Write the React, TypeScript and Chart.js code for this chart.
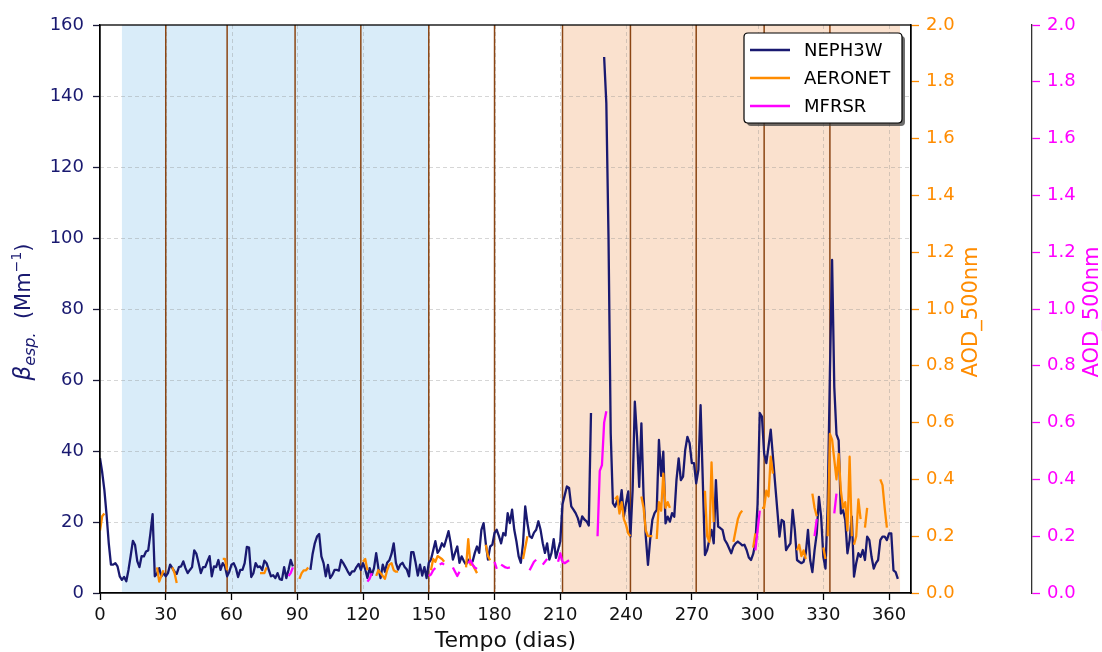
import React, { useEffect, useRef } from 'react';
import { Chart, registerables } from 'chart.js';

Chart.register(...registerables);

const FONT = '"DejaVu Sans", "Liberation Sans", sans-serif';
const NAVY = '#191970';
const ORANGE = '#ff8c00';
const MAGENTA = '#ff00ff';

// Axis ticks
const dayTicks = [0, 30, 60, 90, 120, 150, 180, 210, 240, 270, 300, 330, 360];
const betaTicks = [0, 20, 40, 60, 80, 100, 120, 140, 160];
const aodTicks = [0, 0.2, 0.4, 0.6, 0.8, 1.0, 1.2, 1.4, 1.6, 1.8, 2.0];

// First day of each month (day of year, 0-based) and the two shaded seasons
const monthBoundaries = [30, 58, 89, 119, 150, 180, 211, 242, 272, 303, 333];
const wetSeason = [10, 150];
const drySeason = [211, 365];

// Daily scattering coefficient from the nephelometer (Mm^-1), index = day
const neph3w: (number | null)[] = [
  38, 34, 29, 22, 14, 8, 8, 8.4, 7.5, 4.7,
  3.7, 4.5, 3.3, 6.5, 10.5, 14.7, 13.5, 9, 7.3, 10.4,
  10.3, 11.7, 12, 16.8, 22.2, 4.7, 5.5, 7, 4.7, 5.6,
  4.7, 5.6, 8, 7, 6, 5.4, 7.3, 7.5, 8.9, 7,
  5.6, 6.5, 7.3, 12, 11, 8.4, 5.6, 7.3, 7.3, 8.9,
  10.4, 4.7, 7.5, 7.3, 9.3, 6.5, 8.4, 7.5, 4.7, 6,
  8, 8.4, 7, 4.5, 6.5, 6.5, 8.4, 13, 12.8, 4.5,
  5.6, 8.4, 7.3, 7.5, 6.5, 9.1, 8.4, 6.5, 4.7, 5,
  4.2, 5.6, 3.9, 3.7, 7.3, 4.2, 6.5, 9.3, 7.5, null,
  null, null, null, null, null, null, 6.5, 11, 14, 15.9,
  16.6, 10.3, 8.4, 4.7, 7.9, 4.2, 5.1, 6.5, 6.5, 6.3,
  9.3, 8.4, 7.3, 6.1, 5.1, 6.1, 6.1, 7.3, 8.2, 6.5,
  8.4, 6.7, 4.2, 7, 5.1, 7, 11.2, 7, 4.2, 8,
  6, 8.5, 9.2, 11, 14, 8.5, 6.6, 8, 8.5, 7.3,
  6.6, 4.7, 11.5, 11.5, 8.5, 4.9, 8, 4.9, 7.3, 4.2,
  8.5, 9.4, 12, 14.6, 11.3, 12.2, 14, 13.1, 15.2, 17.4,
  14, 9.4, 11.3, 13.1, 8.5, 10.3, 9, 8, 9.4, 8.5,
  8.9, 11.3, 13.1, 11.3, 17.8, 19.7, 14, 9.4, 13.1, 13.6,
  16.9, 17.8, 16, 14, 16.9, 16.2, 22.5, 19.7, 23.5, 17.8,
  14.5, 10.3, 8.5, 14, 24.4, 19.7, 16, 15.5, 17, 17.8,
  20.2, 17.8, 14, 11.3, 14, 9.4, 11.3, 15.2, 9.9, 12.2,
  14.6, 25, 27.5, 30, 29.6, 24.4, 23.5, 22.5, 21.1, 18.8,
  21.6, 20.7, 20.2, 19, 50.7, null, null, null, null, null,
  151, 138, 100, 45, 25.3, 24.3, 26.2, 24.3, 29, 21.5,
  25.3, 28.6, 15.9, 29, 53.9, 44, 29.9, 47.8, 27.1, 15.9,
  7.9, 15, 20.6, 22.5, 23.4, 43.1, 33, 39.8, 19.6, 21.5,
  20.1, 22.5, 21.5, 31.8, 37.9, 31.8, 32.8, 40.3, 44, 42.2,
  36.6, 36.6, 30.9, 34.7, 52.9, 31.8, 10.7, 12.1, 15, 17.8,
  14, 31.8, 18.7, 18.3, 17.8, 15, 14, 12.6, 11.2, 13.1,
  14, 14.5, 14, 13.4, 13.6, 12.1, 10, 9.3, 11, 14,
  25, 50.7, 49.7, 39.3, 36.6, 41.3, 46, 38.5, 30.9, 23.4,
  15.9, 20.6, 20.1, 12.1, 13.1, 14, 23.4, 17.8, 9.3, 8.8,
  8.4, 8.8, 11.2, 17.8, 9.3, 5.9, 12, 16.8, 27.1, 21.5,
  10.2, 6.9, 25, 61.8, 93.8, 58, 44.7, 43, 22.4, 23.3,
  20.6, 11.2, 14.9, 21.5, 4.6, 8.4, 11.2, 10.2, 12.1, 9.3,
  15.9, 14.9, 10.2, 6.9, 8.4, 9.3, 14.9, 15.9, 15.9, 14.9,
  16.8, 16.8, 6.4, 5.9, 4,
];

// AOD at 500 nm, stored as runs of consecutive days: [first day, values]
const aeronet: [number, number[]][] = [
  [0, [0.22, 0.27, 0.28]],
  [26, [0.09, 0.04, 0.06, 0.08]],
  [33, [0.09, 0.07, 0.035]],
  [56, [0.12, 0.12, 0.08]],
  [73, [0.07, 0.07, 0.07, 0.09]],
  [91, [0.05, 0.07, 0.08, 0.08, 0.09]],
  [120, [0.11, 0.12, 0.08]],
  [126, [0.06, 0.08, 0.07, 0.06, 0.05, 0.08, 0.1, 0.105, 0.08, 0.075, 0.075]],
  [151, [0.08, 0.12, 0.11, 0.13, 0.125, 0.12, 0.11]],
  [167, [0.09, 0.19, 0.1, 0.1, 0.085, 0.07]],
  [176, [0.17, 0.13, 0.115]],
  [193, [0.12, 0.16, 0.2]],
  [235, [0.33, 0.34, 0.28, 0.32, 0.26, 0.24, 0.21, 0.2]],
  [247, [0.34, 0.3, 0.22, 0.2, 0.2, 0.2]],
  [254, [0.19, 0.32, 0.29, 0.42, 0.3, 0.32, 0.3]],
  [276, [0.36, 0.2, 0.18, 0.46, 0.25]],
  [289, [0.18, 0.22, 0.26, 0.28, 0.29]],
  [298, [0.16, 0.21]],
  [302, [0.3, 0.3, 0.36, 0.34, 0.48, 0.42]],
  [318, [0.15, 0.17, 0.13, 0.15, 0.12]],
  [325, [0.35, 0.3, 0.27]],
  [330, [0.16, 0.12]],
  [332, [0.2, 0.56, 0.54, 0.47, 0.4, 0.49, 0.36, 0.3, 0.32, 0.22, 0.48, 0.2]],
  [344, [0.17, 0.2, 0.33, 0.26]],
  [349, [0.23, 0.3]],
  [356, [0.4, 0.38, 0.3, 0.23]],
];

const mfrsr: [number, number[]][] = [
  [86, [0.06, 0.07, 0.09]],
  [122, [0.04, 0.05, 0.07]],
  [150, [0.06, 0.065, 0.08, 0.088]],
  [155, [0.1, 0.105, 0.1]],
  [161, [0.09, 0.075, 0.06, 0.075]],
  [168, [0.105, 0.115, 0.1, 0.09, 0.085]],
  [180, [0.11, 0.085]],
  [183, [0.1, 0.095, 0.09, 0.088, 0.09]],
  [196, [0.08, 0.095, 0.11, 0.117]],
  [202, [0.1, 0.11, 0.12]],
  [209, [0.11, 0.14, 0.11, 0.105, 0.11, 0.115]],
  [227, [0.2, 0.43, 0.45, 0.6, 0.64]],
  [299, [0.15, 0.22, 0.29]],
  [326, [0.2, 0.26]],
  [335, [0.28, 0.35]],
];

type Pt = { x: number; y: number | null };

const fromDaily = (vals: (number | null)[]): Pt[] => vals.map((v, d) => ({ x: d, y: v }));

const fromRuns = (runs: [number, number[]][]): Pt[] => {
  const pts: Pt[] = [];
  runs.forEach(([start, vals]) => {
    vals.forEach((v, i) => pts.push({ x: start + i, y: v }));
    pts.push({ x: start + vals.length - 0.5, y: null });
  });
  return pts;
};

const fixedTicks = (values: number[]) => (scale: any) => {
  scale.ticks = values.map((value) => ({ value }));
};

function drawRotated(ctx: CanvasRenderingContext2D, x: number, y: number, draw: () => void) {
  ctx.save();
  ctx.translate(x, y);
  ctx.rotate(-Math.PI / 2);
  draw();
  ctx.restore();
}

const decor = {
  id: 'decor',
  beforeDraw(chart: any) {
    const { ctx, chartArea: a, scales } = chart;
    const x = scales.x;
    ctx.save();
    const shade = (span: number[], color: string) => {
      const x0 = x.getPixelForValue(span[0]);
      const x1 = x.getPixelForValue(span[1]);
      ctx.fillStyle = color;
      ctx.fillRect(x0, a.top, x1 - x0, a.bottom - a.top);
    };
    shade(wetSeason, '#d9ecf9');
    shade(drySeason, '#fae1ce');
    ctx.restore();
  },
  beforeDatasetsDraw(chart: any) {
    const { ctx, chartArea: a, scales } = chart;
    const x = scales.x;
    const y = scales.y;
    ctx.save();
    ctx.strokeStyle = 'rgba(140,140,140,0.45)';
    ctx.lineWidth = 0.8;
    ctx.setLineDash([4, 3]);
    betaTicks.forEach((v) => {
      if (v === 0 || v === 160) return;
      const py = Math.round(y.getPixelForValue(v)) + 0.5;
      ctx.beginPath();
      ctx.moveTo(a.left, py);
      ctx.lineTo(a.right, py);
      ctx.stroke();
    });
    dayTicks.forEach((v) => {
      if (v === 0) return;
      const px = Math.round(x.getPixelForValue(v)) + 0.5;
      ctx.beginPath();
      ctx.moveTo(px, a.top);
      ctx.lineTo(px, a.bottom);
      ctx.stroke();
    });
    ctx.setLineDash([]);
    ctx.strokeStyle = '#8b4513';
    ctx.lineWidth = 1.5;
    monthBoundaries.forEach((d) => {
      const px = x.getPixelForValue(d);
      ctx.beginPath();
      ctx.moveTo(px, a.top);
      ctx.lineTo(px, a.bottom);
      ctx.stroke();
    });
    ctx.restore();
  },
  afterDraw(chart: any) {
    const { ctx, chartArea: a } = chart;
    ctx.save();

    // plot frame
    ctx.strokeStyle = '#000';
    ctx.lineWidth = 1.3;
    ctx.strokeRect(a.left, a.top, a.right - a.left, a.bottom - a.top);

    // x-axis title
    ctx.fillStyle = '#111';
    ctx.font = `22px ${FONT}`;
    ctx.textAlign = 'center';
    ctx.textBaseline = 'alphabetic';
    ctx.fillText('Tempo (dias)', (a.left + a.right) / 2, 647);

    // left title: beta_esp. (Mm^-1)
    const cy = (a.top + a.bottom) / 2 + 3;
    drawRotated(ctx, 30, cy, () => {
      ctx.fillStyle = NAVY;
      ctx.textAlign = 'left';
      ctx.textBaseline = 'alphabetic';
      const parts = [
        { t: 'β', f: `italic 23px ${FONT}`, dy: 0 },
        { t: 'esp.', f: `italic 16px ${FONT}`, dy: 5 },
        { t: '  (Mm', f: `21px ${FONT}`, dy: 0 },
        { t: '−1', f: `14px ${FONT}`, dy: -9 },
        { t: ')', f: `21px ${FONT}`, dy: 0 },
      ];
      const widths = parts.map((p) => {
        ctx.font = p.f;
        return ctx.measureText(p.t).width;
      });
      const total = widths.reduce((s, w) => s + w, 0);
      let cx = -total / 2;
      parts.forEach((p, i) => {
        ctx.font = p.f;
        ctx.fillText(p.t, cx, p.dy);
        cx += widths[i];
      });
    });

    // right titles
    const rightTitle = (xBase: number, color: string) =>
      drawRotated(ctx, xBase, cy, () => {
        ctx.fillStyle = color;
        ctx.font = `21px ${FONT}`;
        ctx.textAlign = 'center';
        ctx.textBaseline = 'alphabetic';
        ctx.fillText('AOD_500nm', 0, 0);
      });
    rightTitle(977, ORANGE);
    rightTitle(1098, MAGENTA);

    // legend
    const lx = 744;
    const ly = 33;
    const lw = 158;
    const lh = 90;
    const r = 4;
    const box = (ox: number, oy: number) => {
      ctx.beginPath();
      ctx.moveTo(ox + r, oy);
      ctx.lineTo(ox + lw - r, oy);
      ctx.quadraticCurveTo(ox + lw, oy, ox + lw, oy + r);
      ctx.lineTo(ox + lw, oy + lh - r);
      ctx.quadraticCurveTo(ox + lw, oy + lh, ox + lw - r, oy + lh);
      ctx.lineTo(ox + r, oy + lh);
      ctx.quadraticCurveTo(ox, oy + lh, ox, oy + lh - r);
      ctx.lineTo(ox, oy + r);
      ctx.quadraticCurveTo(ox, oy, ox + r, oy);
      ctx.closePath();
    };
    box(lx + 3, ly + 3);
    ctx.fillStyle = 'rgba(60,60,60,0.75)';
    ctx.fill();
    box(lx, ly);
    ctx.fillStyle = '#fff';
    ctx.fill();
    ctx.strokeStyle = '#000';
    ctx.lineWidth = 1.2;
    ctx.stroke();

    ctx.font = `18px ${FONT}`;
    ctx.textAlign = 'left';
    ctx.textBaseline = 'middle';
    chart.data.datasets.forEach((ds: any, i: number) => {
      const yy = ly + 17 + i * 28;
      ctx.strokeStyle = ds.borderColor;
      ctx.lineWidth = 2.3;
      ctx.beginPath();
      ctx.moveTo(lx + 6, yy);
      ctx.lineTo(lx + 46, yy);
      ctx.stroke();
      ctx.fillStyle = '#000';
      ctx.fillText(ds.label, lx + 60, yy + 1);
    });

    ctx.restore();
  },
};

export default function App() {
  const canvasRef = useRef<HTMLCanvasElement | null>(null);

  useEffect(() => {
    const canvas = canvasRef.current;
    if (!canvas) return;
    const tickFont = { family: FONT, size: 18 };
    const chart = new Chart(canvas, {
      type: 'line',
      data: {
        datasets: [
          {
            label: 'NEPH3W',
            data: fromDaily(neph3w) as any,
            yAxisID: 'y',
            borderColor: NAVY,
            borderWidth: 2.3,
            order: 3,
          },
          {
            label: 'AERONET',
            data: fromRuns(aeronet) as any,
            yAxisID: 'yAod',
            borderColor: ORANGE,
            borderWidth: 2.3,
            order: 2,
          },
          {
            label: 'MFRSR',
            data: fromRuns(mfrsr) as any,
            yAxisID: 'yMfrsr',
            borderColor: MAGENTA,
            borderWidth: 2.3,
            order: 1,
          },
        ],
      },
      options: {
        responsive: false,
        animation: false,
        events: [],
        spanGaps: false,
        elements: {
          point: { radius: 0, hoverRadius: 0 },
          line: { tension: 0, borderJoinStyle: 'round' },
        },
        layout: { padding: { top: 25, left: 0, right: 0, bottom: 0 } },
        plugins: { legend: { display: false }, tooltip: { enabled: false } },
        scales: {
          x: {
            type: 'linear',
            min: 0,
            max: 370,
            afterBuildTicks: fixedTicks(dayTicks),
            afterFit: (s: any) => {
              s.height = 59;
            },
            ticks: { color: '#111', font: tickFont, padding: 5, autoSkip: false, maxRotation: 0 },
            grid: { drawOnChartArea: false, tickLength: 7, tickColor: '#000', tickWidth: 1.3 },
            border: { display: true, color: '#000', width: 1.3 },
          },
          y: {
            type: 'linear',
            position: 'left',
            min: 0,
            max: 160,
            afterBuildTicks: fixedTicks(betaTicks),
            afterFit: (s: any) => {
              s.width = 100;
            },
            ticks: { color: NAVY, font: tickFont, padding: 9 },
            grid: { drawOnChartArea: false, tickLength: 7, tickColor: '#1a1a3a', tickWidth: 1.3 },
            border: { display: true, color: '#000', width: 1.3 },
          },
          yAod: {
            type: 'linear',
            position: 'right',
            min: 0,
            max: 2,
            afterBuildTicks: fixedTicks(aodTicks),
            afterFit: (s: any) => {
              s.width = 121;
            },
            ticks: {
              color: ORANGE,
              font: tickFont,
              padding: 7,
              callback: (v: any) => Number(v).toFixed(1),
            },
            grid: { drawOnChartArea: false, tickLength: 8, tickColor: ORANGE, tickWidth: 1.3 },
            border: { display: true, color: '#000', width: 1.3 },
          },
          yMfrsr: {
            type: 'linear',
            position: 'right',
            min: 0,
            max: 2,
            afterBuildTicks: fixedTicks(aodTicks),
            afterFit: (s: any) => {
              s.width = 70;
            },
            ticks: {
              color: MAGENTA,
              font: tickFont,
              padding: 7,
              callback: (v: any) => Number(v).toFixed(1),
            },
            grid: { drawOnChartArea: false, tickLength: 8, tickColor: MAGENTA, tickWidth: 1.3 },
            border: { display: true, color: '#333', width: 1.3 },
          },
        },
      } as any,
      plugins: [decor],
    });
    return () => chart.destroy();
  }, []);

  return (
    <div
      style={{
        position: 'fixed',
        left: 0,
        top: 0,
        width: 1102,
        height: 652,
        background: '#fff',
      }}
    >
      <canvas ref={canvasRef} width={1102} height={652} style={{ display: 'block' }} />
    </div>
  );
}
